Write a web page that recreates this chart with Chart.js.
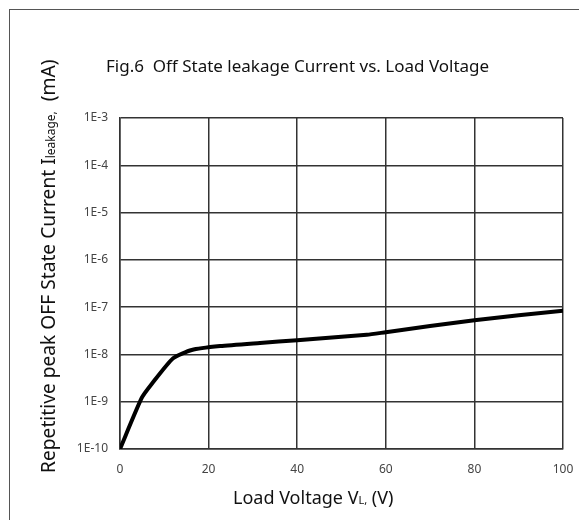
<!DOCTYPE html>
<html>
<head>
<meta charset="utf-8">
<script src="https://cdn.jsdelivr.net/npm/chart.js@4.4.1/dist/chart.umd.min.js"></script>
<style>
  html, body { margin: 0; padding: 0; background: #fff; overflow: hidden; }
  #wrap { position: relative; width: 579px; height: 520px; overflow: hidden; }
  #frame { position: absolute; left: 9px; top: 9px; width: 600px; height: 600px;
           border-left: 1.5px solid #555; border-top: 1.5px solid #555; }
  canvas { position: absolute; left: 0; top: 0; }
</style>
</head>
<body>
<div id="wrap">
  <div id="frame"></div>
  <canvas id="leakChart" width="579" height="520"></canvas>
</div>
<script>
// Load voltage (V) and leakage current (mA)
const voltage = [0, 4.9, 7.2, 12, 16.2, 22.6, 31.6, 40, 55.7, 60, 80, 100];
const leakage = [1e-10, 1.2e-9, 2.4e-9, 8.3e-9, 1.24e-8, 1.5e-8, 1.75e-8, 2.0e-8, 2.6e-8, 2.95e-8, 5.3e-8, 8.4e-8];

const xTicks = [0, 20, 40, 60, 80, 100];
const yTicks = [1e-10, 1e-9, 1e-8, 1e-7, 1e-6, 1e-5, 1e-4, 1e-3];

const titleText = 'Fig.6  Off State leakage Current vs. Load Voltage';
const FONT = '"Noto Sans", "Open Sans", sans-serif';

// titles with small subscripts are drawn by hand
const textPlugin = {
  id: 'texts',
  afterDraw(chart) {
    const ctx = chart.ctx;
    ctx.save();
    ctx.fillStyle = '#111';
    ctx.textBaseline = 'alphabetic';
    ctx.textAlign = 'left';

    ctx.font = '17px ' + FONT;
    ctx.fillText(titleText, 106, 72);

    // x title
    let x = 233;
    const parts = [['Load Voltage V', 18], ['L,', 11], [' (V)', 18]];
    parts.forEach(([t, s]) => {
      ctx.font = s + 'px ' + FONT;
      ctx.fillText(t, x, 504);
      x += ctx.measureText(t).width;
    });

    // y title, rotated
    ctx.translate(55, 473);
    ctx.rotate(-Math.PI / 2);
    let p = 0;
    const yparts = [['Repetitive peak OFF State Current I', 19.2], ['leakage,', 12], ['  (mA)', 19.2]];
    yparts.forEach(([t, s]) => {
      ctx.font = s + 'px ' + FONT;
      ctx.fillText(t, p, 0);
      p += ctx.measureText(t).width;
    });
    ctx.restore();
  }
};

new Chart(document.getElementById('leakChart'), {
  type: 'line',
  data: {
    datasets: [{
      data: voltage.map((v, i) => ({ x: v, y: leakage[i] })),
      borderColor: '#000',
      borderWidth: 4,
      pointRadius: 0,
      tension: 0.2,
      borderCapStyle: 'round',
      borderJoinStyle: 'round'
    }]
  },
  options: {
    responsive: false,
    animation: false,
    layout: { padding: { top: 118, right: 16, left: 0, bottom: 0 } },
    plugins: { legend: { display: false }, tooltip: { enabled: false } },
    scales: {
      x: {
        type: 'linear',
        min: 0,
        max: 100,
        afterBuildTicks: (s) => { s.ticks = xTicks.map(v => ({ value: v })); },
        afterFit: (s) => { s.height = 71; s.paddingLeft = 0; s.paddingRight = 0; },
        grid: { color: '#333', lineWidth: 1.5, drawTicks: false },
        border: { color: '#333', width: 1.5 },
        ticks: { padding: 13, color: '#444', font: { family: FONT, size: 12 } }
      },
      y: {
        type: 'logarithmic',
        min: 1e-10,
        max: 1e-3,
        afterBuildTicks: (s) => { s.ticks = yTicks.map(v => ({ value: v })); },
        afterFit: (s) => { s.width = 120; s.paddingTop = 0; s.paddingBottom = 0; },
        grid: { color: '#333', lineWidth: 1.5, drawTicks: false },
        border: { color: '#333', width: 1.5 },
        ticks: {
          padding: 12,
          color: '#444',
          font: { family: FONT, size: 12 },
          callback: (v) => '1E' + Math.round(Math.log10(v))
        }
      }
    }
  },
  plugins: [textPlugin]
});
</script>
</body>
</html>
